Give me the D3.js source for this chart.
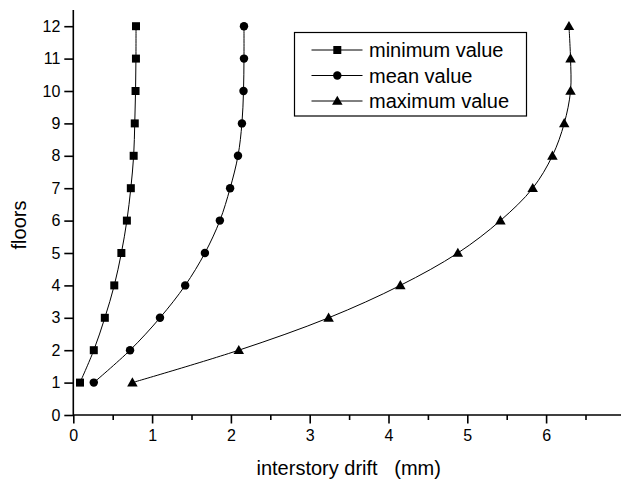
<!DOCTYPE html>
<html>
<head>
<meta charset="utf-8">
<script src="https://cdn.jsdelivr.net/npm/d3@7"></script>
<style>
  html, body { margin: 0; padding: 0; background: #fff; }
  svg { display: block; font-family: Arial, "Liberation Sans", sans-serif; }
</style>
</head>
<body>
<svg id="chart" width="621" height="482"></svg>
<script>
// ---- data ----
const floors = [1, 2, 3, 4, 5, 6, 7, 8, 9, 10, 11, 12];
const minimumValue = [0.085, 0.26, 0.40, 0.52, 0.61, 0.68, 0.73, 0.766, 0.78, 0.79, 0.795, 0.796];
const meanValue    = [0.26, 0.72, 1.10, 1.42, 1.67, 1.86, 1.99, 2.09, 2.14, 2.16, 2.166, 2.166];
const maximumValue = [0.75, 2.10, 3.24, 4.15, 4.88, 5.42, 5.83, 6.08, 6.23, 6.31, 6.31, 6.29];
const seriesNames = ["minimum value", "mean value", "maximum value"];
const xTicks = [0, 1, 2, 3, 4, 5, 6];
const xMinorTicks = [0.5, 1.5, 2.5, 3.5, 4.5, 5.5, 6.5];
const yTicks = [0, 1, 2, 3, 4, 5, 6, 7, 8, 9, 10, 11, 12];
const xTitle = "interstory drift\u00a0\u00a0\u00a0(mm)";
const yTitle = "floors";

const series = [
  { name: seriesNames[0], values: minimumValue, symbol: d3.symbolSquare },
  { name: seriesNames[1], values: meanValue, symbol: d3.symbolCircle },
  { name: seriesNames[2], values: maximumValue, symbol: d3.symbolTriangle }
];

const svg = d3.select("#chart");
const x = d3.scaleLinear().domain([0, 7]).range([73.3, 624.9]);
const y = d3.scaleLinear().domain([0, 12.5]).range([415, 10]);

const symSize = { [seriesNames[0]]: 64, [seriesNames[1]]: 56, [seriesNames[2]]: 48 };

// axes
const xAxis = svg.append("g").attr("transform", "translate(0,415)")
  .call(d3.axisBottom(x).tickValues(xTicks).tickSize(8.5).tickPadding(6.5).tickFormat(d3.format("d")));
const xMinor = svg.append("g").attr("transform", "translate(0,415)")
  .call(d3.axisBottom(x).tickValues(xMinorTicks).tickSize(5).tickFormat(""));
xMinor.select(".domain").remove();
const yAxis = svg.append("g").attr("transform", "translate(73.3,0)")
  .call(d3.axisLeft(y).tickValues(yTicks).tickSize(9).tickPadding(4).tickFormat(d3.format("d")));

[xAxis, xMinor, yAxis].forEach(g => {
  g.selectAll("path.domain").attr("stroke", "#000").attr("stroke-width", 1.6);
  g.selectAll(".tick line").attr("stroke", "#000").attr("stroke-width", 1.6);
  g.selectAll(".tick text").attr("fill", "#000").style("font-size", "16px")
    .style("font-family", 'Arial, "Liberation Sans", sans-serif');
});
xAxis.select("path.domain").attr("d", `M${x(0)},0H${x(7)}`);
yAxis.select("path.domain").attr("d", `M0,${y(0)}V${y(12.5)}`);

// titles
svg.append("text").attr("x", 348.7).attr("y", 475).attr("text-anchor", "middle")
  .style("font-size", "20px").attr("fill", "#000").text(xTitle);
svg.append("text").attr("transform", "translate(26,225) rotate(-90)").attr("text-anchor", "middle")
  .style("font-size", "20px").attr("fill", "#000").text(yTitle);

// lines
const line = d3.line().x(d => x(d.v)).y(d => y(d.f)).curve(d3.curveCatmullRom.alpha(0.5));
series.forEach(s => {
  const pts = floors.map((f, i) => ({ f, v: s.values[i] }));
  svg.append("path").datum(pts).attr("d", line)
    .attr("fill", "none").attr("stroke", "#000").attr("stroke-width", 1);
  svg.append("g").selectAll("path").data(pts).join("path")
    .attr("transform", d => `translate(${x(d.v)},${y(d.f) + (s.symbol === d3.symbolTriangle ? 0.8 : 0)})`)
    .attr("d", d3.symbol().type(s.symbol).size(symSize[s.name]))
    .attr("fill", "#000");
});

// legend
const lg = svg.append("g");
lg.append("rect").attr("x", 294.5).attr("y", 32.5).attr("width", 232).attr("height", 83.5)
  .attr("fill", "#fff").attr("stroke", "#000").attr("stroke-width", 1.2);
series.forEach((s, i) => {
  const cy = 50 + i * 25.5;
  lg.append("line").attr("x1", 311.5).attr("x2", 362.5).attr("y1", cy).attr("y2", cy)
    .attr("stroke", "#000").attr("stroke-width", 1);
  lg.append("path").attr("transform", `translate(337.3,${cy + (s.symbol === d3.symbolTriangle ? 0.8 : 0)})`)
    .attr("d", d3.symbol().type(s.symbol).size(symSize[s.name])).attr("fill", "#000");
  lg.append("text").attr("x", 369).attr("y", cy + 7.3).style("font-size", "20px")
    .attr("fill", "#000").text(s.name);
});
</script>
</body>
</html>
